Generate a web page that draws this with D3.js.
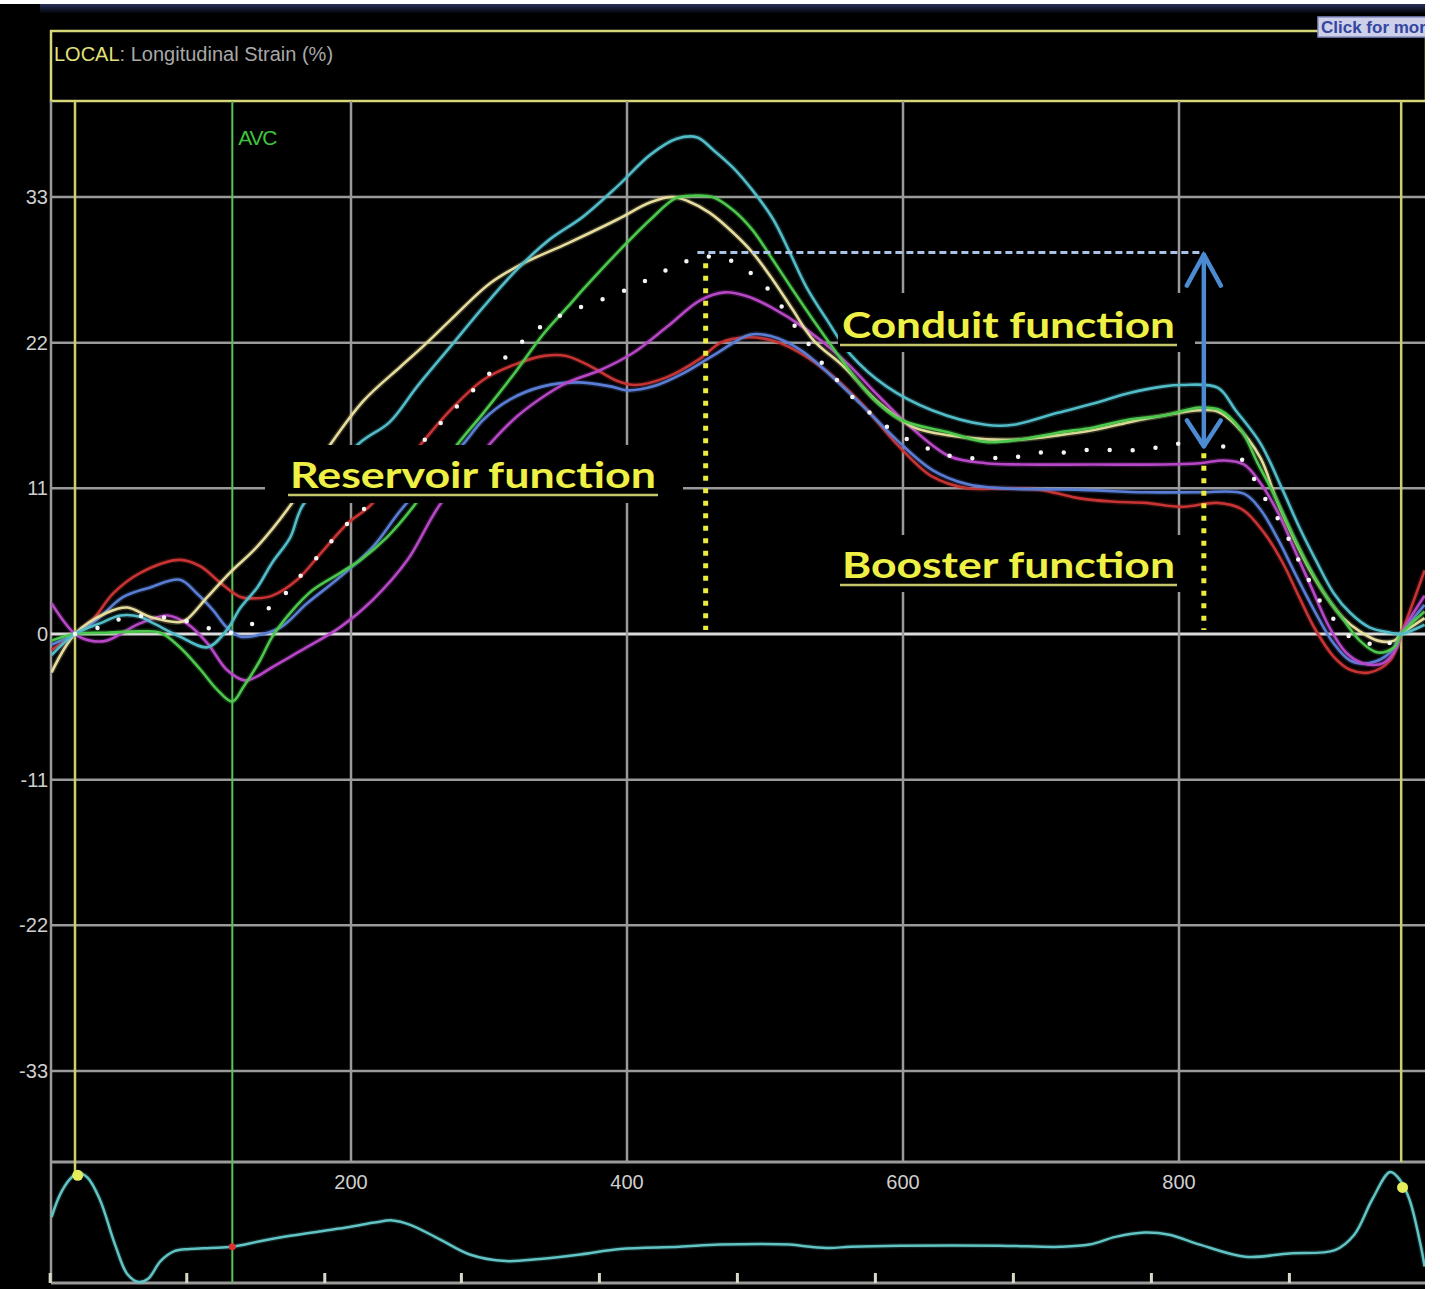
<!DOCTYPE html>
<html><head><meta charset="utf-8">
<script src="https://cdn.jsdelivr.net/npm/d3@7"></script>
<style>html,body{margin:0;padding:0;background:#fff;overflow:hidden}</style>
</head><body>
<svg id="chart" width="1440" height="1289"></svg>
<script>
// ---------- data (time in ms, strain in %) ----------
const yTicks = [33, 22, 11, 0, -11, -22, -33];
const xTicks = [200, 400, 600, 800];
const ecgTicks = [-18, 81, 181, 280, 380, 480, 580, 680, 780, 880];
const avcTime = 114;
const cycleMarks = [0, 961];

const cyan = [[-17,-1.6],[0,0],[18,0.8],[33,1.4],[47,1.3],[57,0.8],[76,-0.2],[96,-1.0],[110,0.3],[120,2.0],[132,3.5],[143,5.4],[156,7.3],[165,9.7],[206,14.4],[228,16.0],[248,18.7],[272,21.7],[296,24.7],[320,27.5],[344,29.8],[368,31.5],[393,33.8],[417,36.2],[436,37.4],[451,37.5],[462,36.6],[477,35.2],[491,33.5],[506,31.3],[518,28.8],[530,26.2],[545,23.7],[562,21.1],[588,18.7],[621,16.9],[660,15.8],[680,15.8],[712,16.7],[738,17.4],[764,18.2],[789,18.7],[802,18.8],[828,18.6],[841,16.9],[859,14.4],[875,10.9],[887,8.1],[899,5.6],[912,3.1],[924,1.6],[938,0.5],[953,0.1],[961,0],[978,0.7]];
const cream = [[-17,-2.9],[0,0],[23,1.6],[38,2.0],[54,1.3],[76,0.9],[81,1.1],[96,2.8],[112,4.6],[132,6.6],[156,9.7],[183,14.0],[209,17.6],[236,20.2],[252,21.7],[272,23.7],[301,26.5],[325,28.0],[357,29.5],[393,31.3],[417,32.6],[433,33.0],[444,32.7],[460,31.8],[477,30.3],[491,28.8],[506,26.7],[520,24.5],[535,22.2],[557,20.2],[583,17.4],[608,15.6],[634,15.0],[660,14.7],[686,14.7],[712,15.0],[738,15.4],[764,16.0],[789,16.5],[815,16.9],[828,16.8],[841,15.8],[859,13.3],[870,10.3],[882,7.5],[894,5.0],[907,2.8],[919,1.2],[931,0.2],[944,-0.5],[956,-0.5],[961,0],[978,1.2]];
const green = [[-17,-0.5],[0,0],[23,0.1],[47,0.2],[62,0.1],[76,-1.0],[91,-2.7],[103,-4.2],[114,-5.1],[122,-4.0],[134,-2.0],[143,-0.2],[156,1.6],[172,3.3],[192,4.6],[207,5.6],[226,7.3],[245,9.6],[277,14.3],[296,16.7],[320,19.9],[339,22.6],[357,24.7],[368,26.0],[393,28.8],[417,31.3],[435,32.9],[448,33.1],[462,33.0],[477,32.0],[491,30.5],[506,28.2],[520,26.0],[535,23.7],[557,20.5],[577,17.9],[598,16.2],[634,15.2],[660,14.5],[686,14.7],[712,15.2],[738,15.6],[764,16.2],[789,16.5],[815,17.1],[830,16.9],[845,15.4],[857,12.9],[870,10.3],[882,7.6],[894,5.1],[907,2.8],[919,1.1],[931,-0.5],[944,-1.4],[956,-1.0],[961,0],[978,1.7]];
const magenta = [[-17,2.3],[0,0],[11,-0.5],[23,-0.5],[47,0.8],[67,1.4],[81,0.8],[96,-0.7],[110,-2.7],[123,-3.5],[132,-3.2],[143,-2.5],[168,-1.0],[192,0.5],[216,2.6],[241,5.6],[264,9.7],[301,14.4],[320,16.4],[339,17.9],[357,19.0],[380,19.9],[404,21.2],[429,23.2],[453,25.2],[471,25.8],[487,25.5],[504,24.7],[530,23.0],[557,20.7],[583,17.9],[608,15.4],[634,13.4],[660,12.9],[686,12.8],[738,12.8],[789,12.8],[815,12.9],[833,13.1],[847,12.8],[859,11.4],[872,9.1],[884,6.3],[896,3.5],[909,0.5],[921,-1.4],[933,-2.2],[948,-2.2],[958,-1.0],[961,0],[978,2.9]];
const blue = [[-17,-0.8],[0,0],[16,1.1],[35,2.8],[54,3.5],[76,4.1],[88,3.1],[100,1.8],[110,0.5],[120,-0.2],[132,-0.1],[149,0.5],[168,2.3],[192,4.3],[216,6.6],[238,9.6],[281,14.3],[296,16.2],[315,17.7],[339,18.7],[364,19.0],[388,18.7],[400,18.4],[419,18.7],[441,19.7],[465,21.2],[489,22.6],[504,22.5],[525,21.5],[547,19.6],[570,17.3],[595,14.7],[621,12.4],[647,11.3],[673,11.0],[725,10.9],[776,10.7],[815,10.7],[847,10.6],[859,9.4],[872,7.1],[884,4.6],[899,1.6],[912,-0.7],[924,-2.0],[938,-2.2],[953,-1.4],[961,0],[978,2.2]];
const red = [[-17,-1.2],[0,0],[13,1.1],[28,3.1],[47,4.6],[76,5.6],[91,5.1],[105,3.9],[120,2.8],[132,2.7],[143,2.9],[161,4.1],[179,6.2],[198,8.4],[214,9.7],[252,14.5],[272,16.9],[296,19.2],[320,20.4],[340,21.0],[356,21.0],[372,20.3],[393,19.1],[406,18.8],[429,19.4],[453,20.8],[468,22.0],[486,22.4],[504,22.2],[517,21.7],[544,19.9],[570,17.4],[595,14.4],[621,11.9],[647,11.0],[673,11.0],[699,10.9],[725,10.3],[751,10.0],[776,9.9],[802,9.6],[828,9.9],[846,9.4],[862,7.6],[875,5.4],[887,2.8],[899,0.3],[912,-1.7],[924,-2.7],[938,-2.9],[953,-2.0],[961,0],[978,4.8]];
const globalAvg = [[0,0],[18,0.5],[38,1.3],[56,1.3],[76,1.1],[98,0.4],[113,0.1],[125,0.5],[132,1.1],[141,2.0],[151,2.9],[161,4.1],[179,6.2],[198,8.4],[209,9.4],[252,14.5],[296,19.2],[320,21.7],[339,23.3],[357,24.3],[375,25.0],[395,25.8],[414,26.7],[433,27.7],[451,28.4],[470,28.4],[489,27.3],[499,26.4],[509,25.2],[517,23.9],[528,22.4],[537,21.1],[546,19.8],[557,18.7],[565,17.7],[575,16.8],[585,15.9],[603,14.7],[621,13.9],[641,13.3],[660,13.3],[678,13.3],[698,13.7],[715,13.7],[733,13.9],[753,13.9],[772,13.9],[791,14.2],[810,14.5],[829,14.3],[849,12.8],[857,11.1],[867,9.5],[877,7.7],[886,5.7],[895,3.9],[905,2.0],[915,0.8],[925,-0.3],[935,-0.5],[944,-1.1],[961,0]];
const ecg = [[-17,0.59],[-11,0.79],[-4,0.93],[2,0.99],[9,0.95],[18,0.75],[29,0.34],[38,0.07],[46,0],[53,0.03],[62,0.19],[72,0.28],[83,0.30],[98,0.31],[114,0.32],[134,0.37],[156,0.42],[177,0.46],[199,0.50],[217,0.54],[230,0.56],[243,0.52],[264,0.39],[286,0.25],[312,0.19],[337,0.21],[366,0.25],[395,0.30],[438,0.32],[467,0.34],[518,0.34],[533,0.32],[547,0.31],[562,0.32],[598,0.33],[670,0.33],[714,0.32],[735,0.34],[754,0.41],[775,0.45],[793,0.43],[815,0.34],[848,0.23],[880,0.26],[913,0.29],[927,0.43],[940,0.75],[953,1.0],[960,0.93],[967,0.75],[975,0.34],[978,0.14]];
const ecgMarkers = [[2,0.97,"#e4ec5c"],[962,0.86,"#e4ec5c"],[114,0.32,"#e03030"]];

const series = [
  {name:"red", data:red, color:"#c83434"},
  {name:"blue", data:blue, color:"#5a7ed6"},
  {name:"magenta", data:magenta, color:"#b847c8"},
  {name:"cream", data:cream, color:"#e6dc9c"},
  {name:"green", data:green, color:"#4cc84c"},
  {name:"cyan", data:cyan, color:"#52bcc8"}
];

// annotation values (ms / %)
const conduitTop = 28.8, boosterTop = 14.4, annoT1 = 457, annoT2 = 818, dashStart = 451;

// ---------- layout ----------
const L = 51, R = 1425, T = 101, B = 1162, EB = 1283;
const svg = d3.select("#chart");
const x = d3.scaleLinear().domain([0, 800]).range([75, 1179]);
const y = d3.scaleLinear().domain([-33, 33]).range([1071, 197]);
const ey = d3.scaleLinear().domain([0, 1]).range([1282, 1172]);

// backgrounds
svg.append("rect").attr("x",0).attr("y",0).attr("width",1440).attr("height",1289).attr("fill","#fff");
const defs = svg.append("defs");
const grad = defs.append("linearGradient").attr("id","topband").attr("x1",0).attr("y1",0).attr("x2",0).attr("y2",1);
grad.append("stop").attr("offset","0%").attr("stop-color","#27305a");
grad.append("stop").attr("offset","100%").attr("stop-color","#000");
svg.append("rect").attr("x",0).attr("y",4).attr("width",R).attr("height",1285).attr("fill","#000");
svg.append("rect").attr("x",40).attr("y",4).attr("width",R-40).attr("height",10).attr("fill","url(#topband)");

defs.append("clipPath").attr("id","plotclip")
  .append("rect").attr("x",L).attr("y",T).attr("width",R-L).attr("height",B-T);
defs.append("clipPath").attr("id","ecgclip")
  .append("rect").attr("x",L).attr("y",B).attr("width",R-L).attr("height",EB-B+2);
defs.append("clipPath").attr("id","btnclip")
  .append("rect").attr("x",1316).attr("y",15).attr("width",R-1316).attr("height",24);
defs.append("clipPath").attr("id","mainclip")
  .append("rect").attr("x",0).attr("y",0).attr("width",R).attr("height",1289);

const main = svg.append("g").attr("clip-path","url(#mainclip)");

// header box
main.append("rect").attr("x",L).attr("y",31).attr("width",R-L+1).attr("height",70)
  .attr("fill","none").attr("stroke","#d6d67a").attr("stroke-width",2.5);
const ht = main.append("text").attr("x",54).attr("y",61).attr("font-family","Liberation Sans, Arial, sans-serif").attr("font-size",20);
ht.append("tspan").attr("fill","#e2e27a").text("LOCAL");
ht.append("tspan").attr("fill","#a8a8a8").text(": Longitudinal Strain (%)");

// button
const btn = svg.append("g").attr("clip-path","url(#btnclip)");
btn.append("rect").attr("x",1318).attr("y",17).attr("width",120).attr("height",20).attr("fill","#cdd0e8").attr("stroke","#8890c8").attr("stroke-width",1.5);
btn.append("text").attr("x",1321).attr("y",33).attr("font-family","Liberation Sans, Arial, sans-serif")
  .attr("font-size",17).attr("font-weight","bold").attr("fill","#3446a0").text("Click for more");

// frame
const gridColor = "#9a9a9a";
main.append("line").attr("x1",L).attr("x2",L).attr("y1",T).attr("y2",EB).attr("stroke",gridColor).attr("stroke-width",2.5);

// horizontal grid
main.append("g").selectAll("line").data(yTicks).join("line")
  .attr("x1",L).attr("x2",R).attr("y1",d=>y(d)).attr("y2",d=>y(d))
  .attr("stroke",d=>d===0?"#dcdcdc":gridColor).attr("stroke-width",d=>d===0?3:2.5);
main.append("g").selectAll("text").data(yTicks).join("text")
  .attr("x",48).attr("y",d=>y(d)+7).attr("text-anchor","end")
  .attr("font-family","Liberation Sans, Arial, sans-serif").attr("font-size",20)
  .attr("fill","#cfcfcf").text(d=>d);

// vertical grid
main.append("g").selectAll("line").data(xTicks).join("line")
  .attr("x1",d=>x(d)).attr("x2",d=>x(d)).attr("y1",T).attr("y2",B)
  .attr("stroke",gridColor).attr("stroke-width",2.5);
main.append("g").selectAll("text").data(xTicks).join("text")
  .attr("x",d=>x(d)).attr("y",B+27).attr("text-anchor","middle")
  .attr("font-family","Liberation Sans, Arial, sans-serif").attr("font-size",20)
  .attr("fill","#cfcfcf").text(d=>d);

// x axis line and ecg baseline
main.append("line").attr("x1",L).attr("x2",R).attr("y1",B).attr("y2",B).attr("stroke",gridColor).attr("stroke-width",3);
main.append("line").attr("x1",L).attr("x2",R).attr("y1",EB).attr("y2",EB).attr("stroke",gridColor).attr("stroke-width",3);
main.append("g").selectAll("line").data(ecgTicks).join("line")
  .attr("x1",d=>x(d)).attr("x2",d=>x(d)).attr("y1",EB-10).attr("y2",EB)
  .attr("stroke","#d8d8c8").attr("stroke-width",3);

// cycle marks (yellow) and AVC (green)
main.append("line").attr("x1",x(cycleMarks[0])).attr("x2",x(cycleMarks[0])).attr("y1",T).attr("y2",B+12).attr("stroke","#cfcf6a").attr("stroke-width",2.5);
main.append("line").attr("x1",x(cycleMarks[1])).attr("x2",x(cycleMarks[1])).attr("y1",T).attr("y2",B).attr("stroke","#cfcf6a").attr("stroke-width",2.5);
main.append("line").attr("x1",x(avcTime)).attr("x2",x(avcTime)).attr("y1",T).attr("y2",EB).attr("stroke","#56c456").attr("stroke-width",2);
main.append("text").attr("x",x(avcTime)+6).attr("y",145).attr("font-family","Liberation Sans, Arial, sans-serif")
  .attr("font-size",21).attr("fill","#3ec43e").attr("letter-spacing",-1.2).text("AVC");

// curves
const line = d3.line().x(d=>x(d[0])).y(d=>y(d[1])).curve(d3.curveCatmullRom.alpha(0.5));
const cg = main.append("g").attr("clip-path","url(#plotclip)");
series.forEach(s=>{
  cg.append("path").attr("d",line(s.data)).attr("fill","none").attr("stroke",s.color)
    .attr("stroke-width",5.5).attr("stroke-opacity",0.22).attr("stroke-linejoin","round");
  cg.append("path").attr("d",line(s.data)).attr("fill","none").attr("stroke",s.color)
    .attr("stroke-width",2.6).attr("stroke-linejoin","round");
});
cg.append("path").attr("d",line(globalAvg)).attr("fill","none").attr("stroke","#f4f4f4")
  .attr("stroke-width",4.5).attr("stroke-linecap","round").attr("stroke-dasharray","0 23");

// ecg strip
const eline = d3.line().x(d=>x(d[0])).y(d=>ey(d[1])).curve(d3.curveCatmullRom.alpha(0.5));
const eg = main.append("g").attr("clip-path","url(#ecgclip)");
eg.append("path").attr("d",eline(ecg)).attr("fill","none").attr("stroke","#5cc0c0").attr("stroke-width",5).attr("stroke-opacity",0.2);
eg.append("path").attr("d",eline(ecg)).attr("fill","none").attr("stroke","#62c4c4").attr("stroke-width",2.5);
eg.selectAll("circle").data(ecgMarkers).join("circle")
  .attr("cx",d=>x(d[0])).attr("cy",d=>ey(d[1])).attr("r",d=>d[2]==="#e03030"?3.5:5.5).attr("fill",d=>d[2]);

// annotation labels with opaque boxes
const labels = [
  {text:"Reservoir function", box:[265,445,418,58], tx:290, ty:488, w:366},
  {text:"Conduit function",   box:[838,293,357,59], tx:842, ty:338, w:333},
  {text:"Booster function",   box:[838,535,357,57], tx:842, ty:578, w:333}
];
labels.forEach(l=>{
  main.append("rect").attr("x",l.box[0]).attr("y",l.box[1]).attr("width",l.box[2]).attr("height",l.box[3]).attr("fill","#000");
  main.append("text").attr("x",l.tx).attr("y",l.ty).attr("font-family","Lato, 'Open Sans', sans-serif")
    .attr("font-weight",700).attr("font-size",36).attr("fill","#eef046")
    .attr("textLength",l.w).attr("lengthAdjust","spacingAndGlyphs").text(l.text);
  main.append("line").attr("x1",l.tx-2).attr("x2",l.tx+l.w+2).attr("y1",l.ty+7).attr("y2",l.ty+7)
    .attr("stroke","#c8c86a").attr("stroke-width",2.5);
});

// dashed peak line
main.append("line").attr("x1",x(dashStart)).attr("x2",x(annoT2)).attr("y1",y(conduitTop)).attr("y2",y(conduitTop))
  .attr("stroke","#a9c2e6").attr("stroke-width",3).attr("stroke-dasharray","7 4");
// yellow dotted verticals
main.append("line").attr("x1",x(annoT1)).attr("x2",x(annoT1)).attr("y1",y(conduitTop-0.8)).attr("y2",y(0.3))
  .attr("stroke","#ecec3c").attr("stroke-width",5).attr("stroke-dasharray","5 7.5");
main.append("line").attr("x1",x(annoT2)).attr("x2",x(annoT2)).attr("y1",y(boosterTop+0.2)).attr("y2",y(0.3))
  .attr("stroke","#ecec3c").attr("stroke-width",5).attr("stroke-dasharray","5 7.5");
// double arrow
const ax = x(annoT2), ay1 = y(conduitTop)+2, ay2 = y(boosterTop)+3;
const ag = main.append("g").attr("stroke","#4c8ad2").attr("stroke-width",4.5).attr("fill","none").attr("stroke-linecap","round").attr("stroke-linejoin","round");
ag.append("line").attr("x1",ax).attr("x2",ax).attr("y1",ay1).attr("y2",ay2);
ag.append("polyline").attr("points",`${ax-17},${ay1+31} ${ax},${ay1} ${ax+17},${ay1+31}`);
ag.append("polyline").attr("points",`${ax-17},${ay2-26} ${ax},${ay2} ${ax+17},${ay2-26}`);
</script>
</body></html>
